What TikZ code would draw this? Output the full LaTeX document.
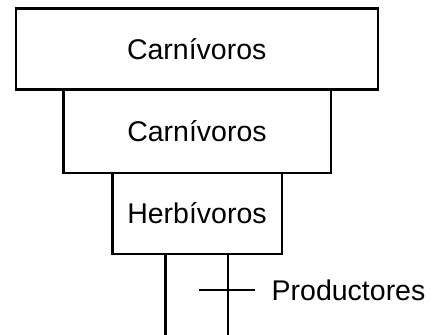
\documentclass[tikz,border=0pt]{standalone}
\usepackage{fontspec}
\setmainfont{Liberation Sans}
\begin{document}
\begin{tikzpicture}[x=1pt,y=-1pt,
  level/.style={draw=black, line width=2.4pt, fill=white, inner sep=0pt,
    font=\fontsize{28.5}{34}\selectfont},
  stem/.style={draw=black, line width=2.4pt},
  lbl/.style={inner sep=0pt, anchor=west, font=\fontsize{28.5}{34}\selectfont}]
  \useasboundingbox (0,0) rectangle (432,335);
  % pyramid levels, top to bottom
  \node[level, minimum width=362pt, minimum height=81pt] (c2) at (196.7,48.8) {Carnívoros};
  \node[level, minimum width=267.4pt, minimum height=83.4pt] (c1) at (197,131) {Carnívoros};
  \node[level, minimum width=169.4pt, minimum height=81.3pt] (h) at (197,213.35) {Herbívoros};
  % producers: two vertical stems below the herbivore box
  \coordinate (s1) at (165.3,335);
  \coordinate (s2) at (227.7,335);
  \draw[stem] (h.south -| s1) -- (s1);
  \draw[stem] (h.south -| s2) -- (s2);
  % tick with label
  \coordinate (t1) at (199.3,290);
  \coordinate (t2) at (255,290);
  \node[lbl] (p) at (271.5,290) {Productores};
  \draw[stem] (t1) -- (t2);
\end{tikzpicture}
\end{document}
